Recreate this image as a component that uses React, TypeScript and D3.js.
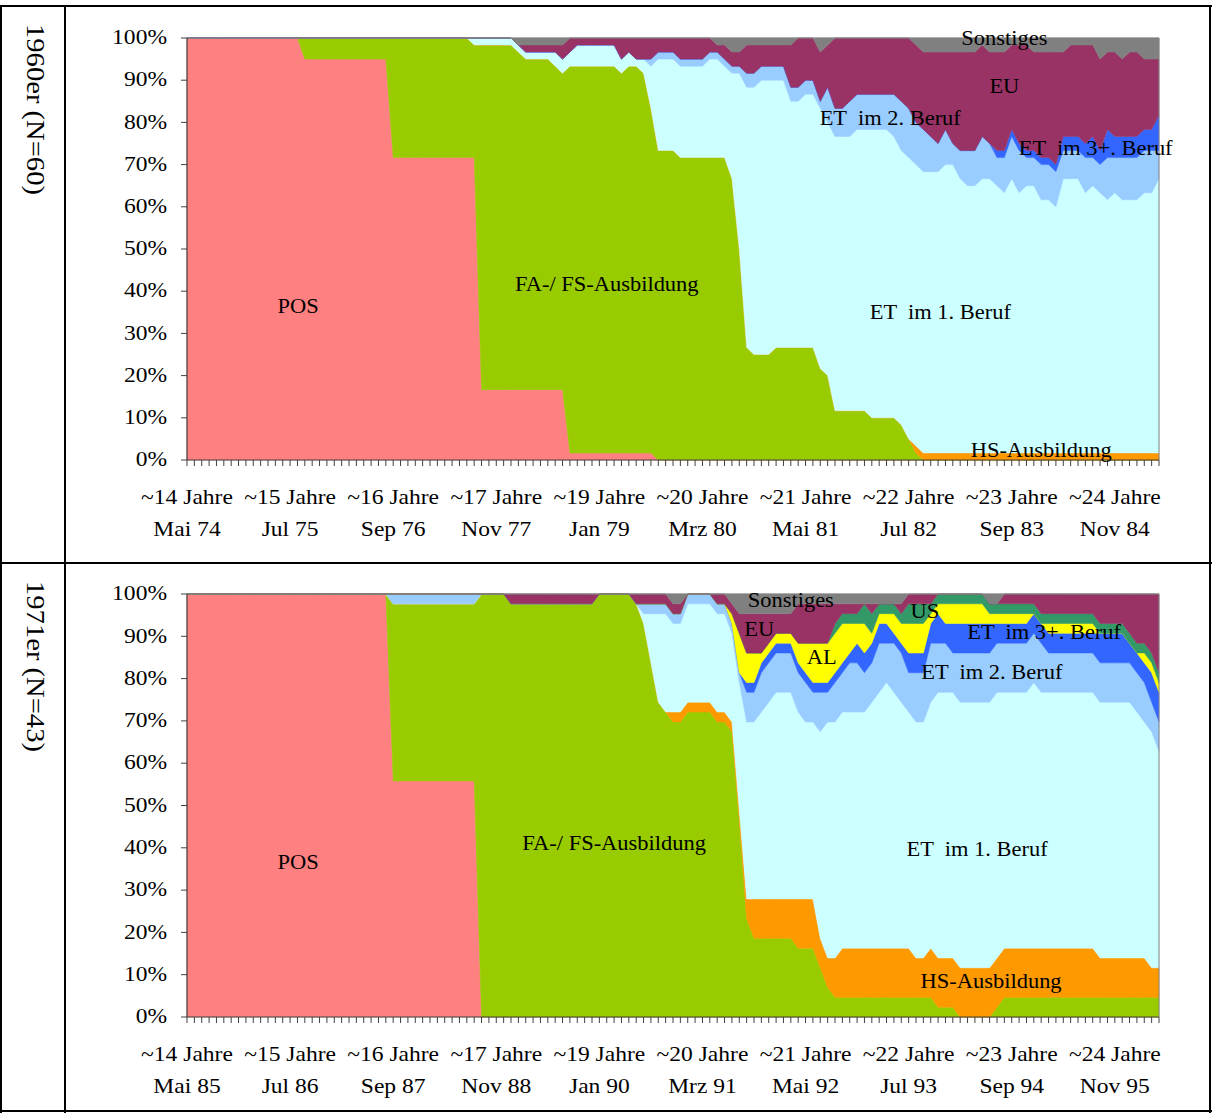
import React from "react";
import * as d3 from "d3";

// months from Mai of the start year, one category per month (133 categories)
const MONTHS = 133;
const tickEvery = 14;

const ageLabels = ["~14 Jahre", "~15 Jahre", "~16 Jahre", "~17 Jahre", "~19 Jahre", "~20 Jahre", "~21 Jahre", "~22 Jahre", "~23 Jahre", "~24 Jahre"];
const dates60 = ["Mai 74", "Jul 75", "Sep 76", "Nov 77", "Jan 79", "Mrz 80", "Mai 81", "Jul 82", "Sep 83", "Nov 84"];
const dates71 = ["Mai 85", "Jul 86", "Sep 87", "Nov 88", "Jan 90", "Mrz 91", "Mai 92", "Jul 93", "Sep 94", "Nov 95"];

const COLORS: Record<string, string> = {
  POS: "#FF8080",
  FA: "#99CC00",
  HS: "#FF9900",
  ET1: "#CCFFFF",
  ET2: "#99CCFF",
  ET3: "#3366FF",
  AL: "#FFFF00",
  US: "#339966",
  EU: "#993366",
  SO: "#808080",
};

// ---- 1960er, counts out of N=60 per month ----
const pos60 = [
  60,60,60,60,60,60,60,60,60,60,
  60,60,60,60,60,60,57,57,57,57,
  57,57,57,57,57,57,57,57,43,43,
  43,43,43,43,43,43,43,43,43,43,
  10,10,10,10,10,10,10,10,10,10,
  10,10,1,1,1,1,1,1,1,1,
  1,1,1,1,0,0,0,0,0,0,
  0,0,0,0,0,0,0,0,0,0,
  0,0,0,0,0,0,0,0,0,0,
  0,0,0,0,0,0,0,0,0,0,
  0,0,0,0,0,0,0,0,0,0,
  0,0,0,0,0,0,0,0,0,0,
  0,0,0,0,0,0,0,0,0,0,
  0,0,0,
];
const fa60 = [
  0,0,0,0,0,0,0,0,0,0,
  0,0,0,0,0,0,3,3,3,3,
  3,3,3,3,3,3,3,3,17,17,
  17,17,17,17,17,17,17,17,17,16,
  49,49,49,49,49,48,47,47,47,47,
  46,45,55,55,55,55,55,55,55,54,
  55,55,54,49,44,44,44,43,43,43,
  43,43,43,43,40,30,16,15,15,15,
  16,16,16,16,16,16,13,12,7,7,
  7,7,7,6,6,6,6,5,3,1,
  0,0,0,0,0,0,0,0,0,0,
  0,0,0,0,0,0,0,0,0,0,
  0,0,0,0,0,0,0,0,0,0,
  0,0,0,
];
const hs60 = [
  0,0,0,0,0,0,0,0,0,0,
  0,0,0,0,0,0,0,0,0,0,
  0,0,0,0,0,0,0,0,0,0,
  0,0,0,0,0,0,0,0,0,0,
  0,0,0,0,0,0,0,0,0,0,
  0,0,0,0,0,0,0,0,0,0,
  0,0,0,0,0,0,0,0,0,0,
  0,0,0,0,0,0,0,0,0,0,
  0,0,0,0,0,0,0,0,0,0,
  0,0,0,0,0,0,0,0,0,1,
  1,1,1,1,1,1,1,1,1,1,
  1,1,1,1,1,1,1,1,1,1,
  1,1,1,1,1,1,1,1,1,1,
  1,1,1,
];
const et1_60 = [
  0,0,0,0,0,0,0,0,0,0,
  0,0,0,0,0,0,0,0,0,0,
  0,0,0,0,0,0,0,0,0,0,
  0,0,0,0,0,0,0,0,0,1,
  1,1,1,1,1,1,1,1,1,1,
  2,2,2,3,3,3,3,3,3,2,
  2,1,2,6,13,13,13,13,13,13,
  13,14,14,13,15,25,37,38,39,39,
  38,38,35,35,36,36,37,36,39,39,
  39,40,40,41,41,41,40,39,40,40,
  40,40,40,41,41,39,38,38,39,39,
  38,37,39,37,38,38,36,36,35,39,
  39,39,37,38,37,36,37,36,36,36,
  37,37,39,
];
const et2_60 = [
  0,0,0,0,0,0,0,0,0,0,
  0,0,0,0,0,0,0,0,0,0,
  0,0,0,0,0,0,0,0,0,0,
  0,0,0,0,0,0,0,0,0,0,
  0,0,0,0,0,0,0,0,0,0,
  0,0,0,0,0,0,0,0,0,0,
  0,0,0,1,1,1,1,1,1,1,
  1,1,1,1,1,1,2,2,2,2,
  2,2,2,2,2,2,1,5,4,4,
  5,5,5,5,5,5,6,7,7,6,
  6,5,4,5,3,4,5,5,6,5,
  4,5,6,6,4,4,5,5,5,4,
  4,4,5,4,4,6,5,6,6,6,
  6,6,4,
];
const et3_60 = [
  0,0,0,0,0,0,0,0,0,0,
  0,0,0,0,0,0,0,0,0,0,
  0,0,0,0,0,0,0,0,0,0,
  0,0,0,0,0,0,0,0,0,0,
  0,0,0,0,0,0,0,0,0,0,
  0,0,0,0,0,0,0,0,0,0,
  0,0,0,0,0,0,0,0,0,0,
  0,0,0,0,0,0,0,0,0,0,
  0,0,0,0,0,0,0,0,0,0,
  0,0,0,0,0,0,0,0,0,0,
  0,0,0,0,0,0,0,0,0,0,
  1,1,1,1,1,1,1,1,1,2,
  2,2,2,3,2,4,3,3,3,3,
  3,3,5,
];
const eu60 = [
  0,0,0,0,0,0,0,0,0,0,
  0,0,0,0,0,0,0,0,0,0,
  0,0,0,0,0,0,0,0,0,0,
  0,0,0,0,0,0,0,0,0,0,
  0,0,0,0,0,0,1,1,1,1,
  1,2,2,1,1,1,1,1,1,3,
  2,3,3,3,2,2,2,3,3,3,
  3,2,1,2,2,2,4,4,3,3,
  3,3,6,7,6,6,7,6,10,10,
  9,8,8,8,8,8,8,9,10,11,
  11,12,13,11,13,14,14,14,13,13,
  14,14,12,14,15,14,15,15,16,12,
  13,13,14,13,13,11,12,11,12,12,
  10,10,8,
];
const so60 = [
  0,0,0,0,0,0,0,0,0,0,
  0,0,0,0,0,0,0,0,0,0,
  0,0,0,0,0,0,0,0,0,0,
  0,0,0,0,0,0,0,0,0,0,
  0,0,0,0,0,1,1,1,1,1,
  1,1,0,0,0,0,0,0,0,0,
  0,0,0,0,0,0,0,0,0,0,
  0,0,1,1,2,2,1,1,1,1,
  1,1,1,0,0,0,2,1,0,0,
  0,0,0,0,0,0,0,0,0,1,
  2,2,2,2,2,2,2,2,1,2,
  2,2,1,1,1,2,2,2,2,2,
  1,1,1,1,3,2,2,3,2,2,
  3,3,3,
];

// ---- 1971er, counts out of N=43 per month ----
const pos43 = [
  43,43,43,43,43,43,43,43,43,43,
  43,43,43,43,43,43,43,43,43,43,
  43,43,43,43,43,43,43,43,24,24,
  24,24,24,24,24,24,24,24,24,24,
  0,0,0,0,0,0,0,0,0,0,
  0,0,0,0,0,0,0,0,0,0,
  0,0,0,0,0,0,0,0,0,0,
  0,0,0,0,0,0,0,0,0,0,
  0,0,0,0,0,0,0,0,0,0,
  0,0,0,0,0,0,0,0,0,0,
  0,0,0,0,0,0,0,0,0,0,
  0,0,0,0,0,0,0,0,0,0,
  0,0,0,0,0,0,0,0,0,0,
  0,0,0,
];
const fa43 = [
  0,0,0,0,0,0,0,0,0,0,
  0,0,0,0,0,0,0,0,0,0,
  0,0,0,0,0,0,0,0,18,18,
  18,18,18,18,18,18,18,18,18,18,
  43,43,43,43,42,42,42,42,42,42,
  42,42,42,42,42,42,43,43,43,43,
  43,42,40,36,32,31,30,30,31,31,
  31,31,30,30,29,20,10,8,8,8,
  8,8,8,7,7,7,5,3,2,2,
  2,2,2,2,2,2,2,2,2,2,
  2,2,1,1,1,0,0,0,0,0,
  1,2,2,2,2,2,2,2,2,2,
  2,2,2,2,2,2,2,2,2,2,
  2,2,2,
];
const hs43 = [
  0,0,0,0,0,0,0,0,0,0,
  0,0,0,0,0,0,0,0,0,0,
  0,0,0,0,0,0,0,0,0,0,
  0,0,0,0,0,0,0,0,0,0,
  0,0,0,0,0,0,0,0,0,0,
  0,0,0,0,0,0,0,0,0,0,
  0,0,0,0,0,0,1,1,1,1,
  1,1,1,1,1,1,2,4,4,4,
  4,4,4,5,5,5,3,3,4,5,
  5,5,5,5,5,5,5,5,5,4,
  4,5,5,5,5,5,5,5,5,5,
  5,5,5,5,5,5,5,5,5,5,
  5,5,5,5,4,4,4,4,4,4,
  4,3,3,
];
const et1_43 = [
  0,0,0,0,0,0,0,0,0,0,
  0,0,0,0,0,0,0,0,0,0,
  0,0,0,0,0,0,0,0,0,0,
  0,0,0,0,0,0,0,0,0,0,
  0,0,0,0,0,0,0,0,0,0,
  0,0,0,0,0,0,0,0,0,0,
  0,0,1,5,9,10,9,9,10,10,
  10,10,10,10,9,13,18,18,19,20,
  21,21,21,19,18,18,21,24,24,24,
  24,24,24,25,26,27,26,25,24,24,
  24,25,27,27,27,27,27,27,27,27,
  27,26,26,26,26,27,26,26,26,26,
  26,26,26,26,26,26,26,26,26,25,
  24,24,22,
];
const et2_43 = [
  0,0,0,0,0,0,0,0,0,0,
  0,0,0,0,0,0,0,0,0,0,
  0,0,0,0,0,0,0,0,1,1,
  1,1,1,1,1,1,1,1,1,1,
  0,0,0,0,0,0,0,0,0,0,
  0,0,0,0,0,0,0,0,0,0,
  0,0,1,1,1,1,1,1,1,1,
  1,1,1,1,1,1,3,3,4,4,
  4,4,4,4,4,3,4,3,4,4,
  5,5,4,4,5,4,5,5,4,5,
  5,6,5,5,4,5,5,5,5,5,
  5,5,5,5,5,5,5,4,4,4,
  4,4,4,4,4,4,4,4,4,4,
  4,3,3,
];
const et3_43 = [
  0,0,0,0,0,0,0,0,0,0,
  0,0,0,0,0,0,0,0,0,0,
  0,0,0,0,0,0,0,0,0,0,
  0,0,0,0,0,0,0,0,0,0,
  0,0,0,0,0,0,0,0,0,0,
  0,0,0,0,0,0,0,0,0,0,
  0,0,0,0,0,0,0,0,0,0,
  0,0,0,0,0,0,1,1,1,1,
  1,1,1,1,1,1,1,1,1,1,
  1,2,2,2,2,2,1,1,2,2,
  2,2,3,2,3,3,3,3,3,3,
  2,2,2,2,2,2,2,2,2,2,
  2,2,2,2,3,3,3,3,2,2,
  2,3,3,
];
const al43 = [
  0,0,0,0,0,0,0,0,0,0,
  0,0,0,0,0,0,0,0,0,0,
  0,0,0,0,0,0,0,0,0,0,
  0,0,0,0,0,0,0,0,0,0,
  0,0,0,0,0,0,0,0,0,0,
  0,0,0,0,0,0,0,0,0,0,
  0,0,0,0,0,0,0,0,0,0,
  0,0,0,0,1,4,3,3,1,1,
  1,1,1,2,3,4,4,4,4,4,
  3,2,3,1,1,1,2,2,3,3,
  3,1,1,2,2,2,2,2,2,1,
  1,1,1,1,1,0,0,1,1,1,
  1,1,1,1,0,0,0,0,0,0,
  1,1,1,
];
const us43 = [
  0,0,0,0,0,0,0,0,0,0,
  0,0,0,0,0,0,0,0,0,0,
  0,0,0,0,0,0,0,0,0,0,
  0,0,0,0,0,0,0,0,0,0,
  0,0,0,0,0,0,0,0,0,0,
  0,0,0,0,0,0,0,0,0,0,
  0,0,0,0,0,0,0,0,0,0,
  0,0,0,0,0,0,0,0,0,0,
  0,0,0,0,0,0,0,0,1,1,
  1,1,2,2,1,1,1,1,2,2,
  2,1,1,1,1,1,1,1,1,1,
  1,1,1,1,1,1,1,1,1,1,
  1,1,1,1,1,1,1,1,1,1,
  1,1,1,
];
const eu43 = [
  0,0,0,0,0,0,0,0,0,0,
  0,0,0,0,0,0,0,0,0,0,
  0,0,0,0,0,0,0,0,0,0,
  0,0,0,0,0,0,0,0,0,0,
  0,0,0,0,1,1,1,1,1,1,
  1,1,1,1,1,1,0,0,0,0,
  0,1,1,1,1,1,1,1,0,0,
  0,0,1,1,1,2,4,4,4,3,
  2,2,2,4,4,4,4,4,2,1,
  1,1,0,1,0,0,0,1,1,1,
  1,1,0,0,0,0,0,0,0,0,
  0,1,1,1,1,1,2,2,2,2,
  2,2,2,2,3,3,3,3,4,5,
  5,6,8,
];
const so43 = [
  0,0,0,0,0,0,0,0,0,0,
  0,0,0,0,0,0,0,0,0,0,
  0,0,0,0,0,0,0,0,0,0,
  0,0,0,0,0,0,0,0,0,0,
  0,0,0,0,0,0,0,0,0,0,
  0,0,0,0,0,0,0,0,0,0,
  0,0,0,0,0,0,1,1,0,0,
  0,0,0,0,1,2,2,2,2,2,
  2,2,2,1,1,1,1,1,1,1,
  1,1,1,1,1,1,1,1,0,0,
  0,0,0,0,0,0,0,0,0,1,
  1,0,0,0,0,0,0,0,0,0,
  0,0,0,0,0,0,0,0,0,0,
  0,0,0,
];

// area labels, placed in data space (month index, share)
const labels60 = [
  { t: "POS", i: 15.1, p: 0.365 },
  { t: "FA-/ FS-Ausbildung", i: 57, p: 0.417 },
  { t: "ET  im 1. Beruf", i: 102.3, p: 0.35 },
  { t: "HS-Ausbildung", i: 116, p: 0.024 },
  { t: "ET  im 2. Beruf", i: 95.5, p: 0.81 },
  { t: "EU", i: 111, p: 0.886 },
  { t: "ET  im 3+. Beruf", i: 123.4, p: 0.739 },
  { t: "Sonstiges", i: 111, p: 1.0 },
];
const labels71 = [
  { t: "POS", i: 15.1, p: 0.366 },
  { t: "FA-/ FS-Ausbildung", i: 58, p: 0.411 },
  { t: "ET  im 1. Beruf", i: 107.3, p: 0.397 },
  { t: "HS-Ausbildung", i: 109.2, p: 0.085 },
  { t: "ET  im 2. Beruf", i: 109.3, p: 0.816 },
  { t: "ET  im 3+. Beruf", i: 116.4, p: 0.91 },
  { t: "AL", i: 86.2, p: 0.851 },
  { t: "US", i: 100.2, p: 0.96 },
  { t: "EU", i: 77.7, p: 0.917 },
  { t: "Sonstiges", i: 82, p: 0.985 },
];

type Label = { t: string; i: number; p: number };

// the source renders its Times text a little wider than it is tall
const STRETCH = 1.07;

const SText: React.FC<{ x: number; y: number; size: number; anchor?: string; children: React.ReactNode }> = ({
  x,
  y,
  size,
  anchor = "middle",
  children,
}) => (
  <text
    transform={`translate(${x},${y}) scale(${STRETCH},1)`}
    fontSize={size}
    textAnchor={anchor}
    dominantBaseline="central"
    style={{ whiteSpace: "pre" }}
  >
    {children}
  </text>
);

interface PanelProps {
  rowTop: number;
  plotTop: number;
  plotBottom: number;
  title: string;
  keys: string[];
  series: Record<string, number[]>;
  dates: string[];
  labels: Label[];
}

const X0 = 187;
const X1 = 1159;

const Panel: React.FC<PanelProps> = ({ rowTop, plotTop, plotBottom, title, keys, series, dates, labels }) => {
  const x = d3.scaleLinear().domain([0, MONTHS - 1]).range([X0, X1]);
  const y = d3.scaleLinear().domain([0, 1]).range([plotBottom, plotTop]);

  const rows = d3.range(MONTHS).map((i) => {
    const r: Record<string, number> = { i };
    keys.forEach((k) => (r[k] = series[k][i] ?? 0));
    return r;
  });

  const stacked = d3.stack<Record<string, number>>().keys(keys).offset(d3.stackOffsetExpand)(rows);

  const area = d3
    .area<d3.SeriesPoint<Record<string, number>>>()
    .x((d) => x(d.data.i))
    .y0((d) => y(d[0]))
    .y1((d) => y(d[1]));

  const yTicks = d3.range(0, 11).map((v) => v / 10);
  const labelIdx = d3.range(0, MONTHS, tickEvery);

  return (
    <g>
      <text
        transform={`translate(35,${rowTop + 18}) rotate(90)`}
        fontSize={25}
        textLength={171}
        lengthAdjust="spacingAndGlyphs"
        dominantBaseline="central"
      >
        {title}
      </text>

      {stacked.map((s) => (
        <path
          key={s.key}
          d={area(s) || ""}
          fill={COLORS[s.key]}
          stroke={COLORS[s.key]}
          strokeWidth={0.5}
        />
      ))}

      {/* plot frame */}
      <line x1={X0} x2={X1} y1={plotTop} y2={plotTop} stroke="#808080" strokeWidth={1} />
      <line x1={X1} x2={X1} y1={plotTop} y2={plotBottom} stroke="#808080" strokeWidth={1} />

      {/* y axis */}
      <line x1={X0} x2={X0} y1={plotTop} y2={plotBottom} stroke="#404040" strokeWidth={1.2} />
      {yTicks.map((v) => (
        <g key={v}>
          <line x1={X0 - 6} x2={X0} y1={y(v)} y2={y(v)} stroke="#404040" />
          <SText x={167} y={y(v) - 1} size={22} anchor="end">
            {d3.format(".0%")(v)}
          </SText>
        </g>
      ))}

      {/* x axis */}
      <line x1={X0} x2={X1} y1={plotBottom} y2={plotBottom} stroke="#404040" strokeWidth={1.2} />
      {d3.range(MONTHS).map((i) => (
        <line key={i} x1={x(i)} x2={x(i)} y1={plotBottom} y2={plotBottom + 6} stroke="#404040" />
      ))}
      {labelIdx.map((i, k) => (
        <g key={i}>
          <SText x={x(i)} y={plotBottom + 37} size={22}>
            {ageLabels[k]}
          </SText>
          <SText x={x(i)} y={plotBottom + 69} size={22}>
            {dates[k]}
          </SText>
        </g>
      ))}

      {labels.map((l) => (
        <SText key={l.t} x={x(l.i)} y={y(l.p)} size={21}>
          {l.t}
        </SText>
      ))}
    </g>
  );
};

const keys60 = ["POS", "FA", "HS", "ET1", "ET2", "ET3", "EU", "SO"];
const keys71 = ["POS", "FA", "HS", "ET1", "ET2", "ET3", "AL", "US", "EU", "SO"];

export default function App() {
  return (
    <div style={{ position: "absolute", left: 0, top: 0 }}>
      <svg
        width={1212}
        height={1113}
        style={{ display: "block", background: "#fff" }}
        fontFamily="'Liberation Serif', 'Times New Roman', serif"
      >
        <Panel
          rowTop={6}
          plotTop={38}
          plotBottom={460}
          title="1960er (N=60)"
          keys={keys60}
          series={{ POS: pos60, FA: fa60, HS: hs60, ET1: et1_60, ET2: et2_60, ET3: et3_60, EU: eu60, SO: so60 }}
          dates={dates60}
          labels={labels60}
        />
        <Panel
          rowTop={563}
          plotTop={594}
          plotBottom={1017}
          title="1971er (N=43)"
          keys={keys71}
          series={{ POS: pos43, FA: fa43, HS: hs43, ET1: et1_43, ET2: et2_43, ET3: et3_43, AL: al43, US: us43, EU: eu43, SO: so43 }}
          dates={dates71}
          labels={labels71}
        />

        {/* table grid */}
        <g stroke="#000" strokeWidth={2}>
          <line x1={0} x2={1212} y1={6} y2={6} />
          <line x1={0} x2={1212} y1={563} y2={563} />
          <line x1={0} x2={1212} y1={1111} y2={1111} />
          <line x1={1} x2={1} y1={6} y2={1113} />
          <line x1={65} x2={65} y1={6} y2={1113} />
          <line x1={1210} x2={1210} y1={6} y2={1113} />
        </g>
      </svg>
    </div>
  );
}
